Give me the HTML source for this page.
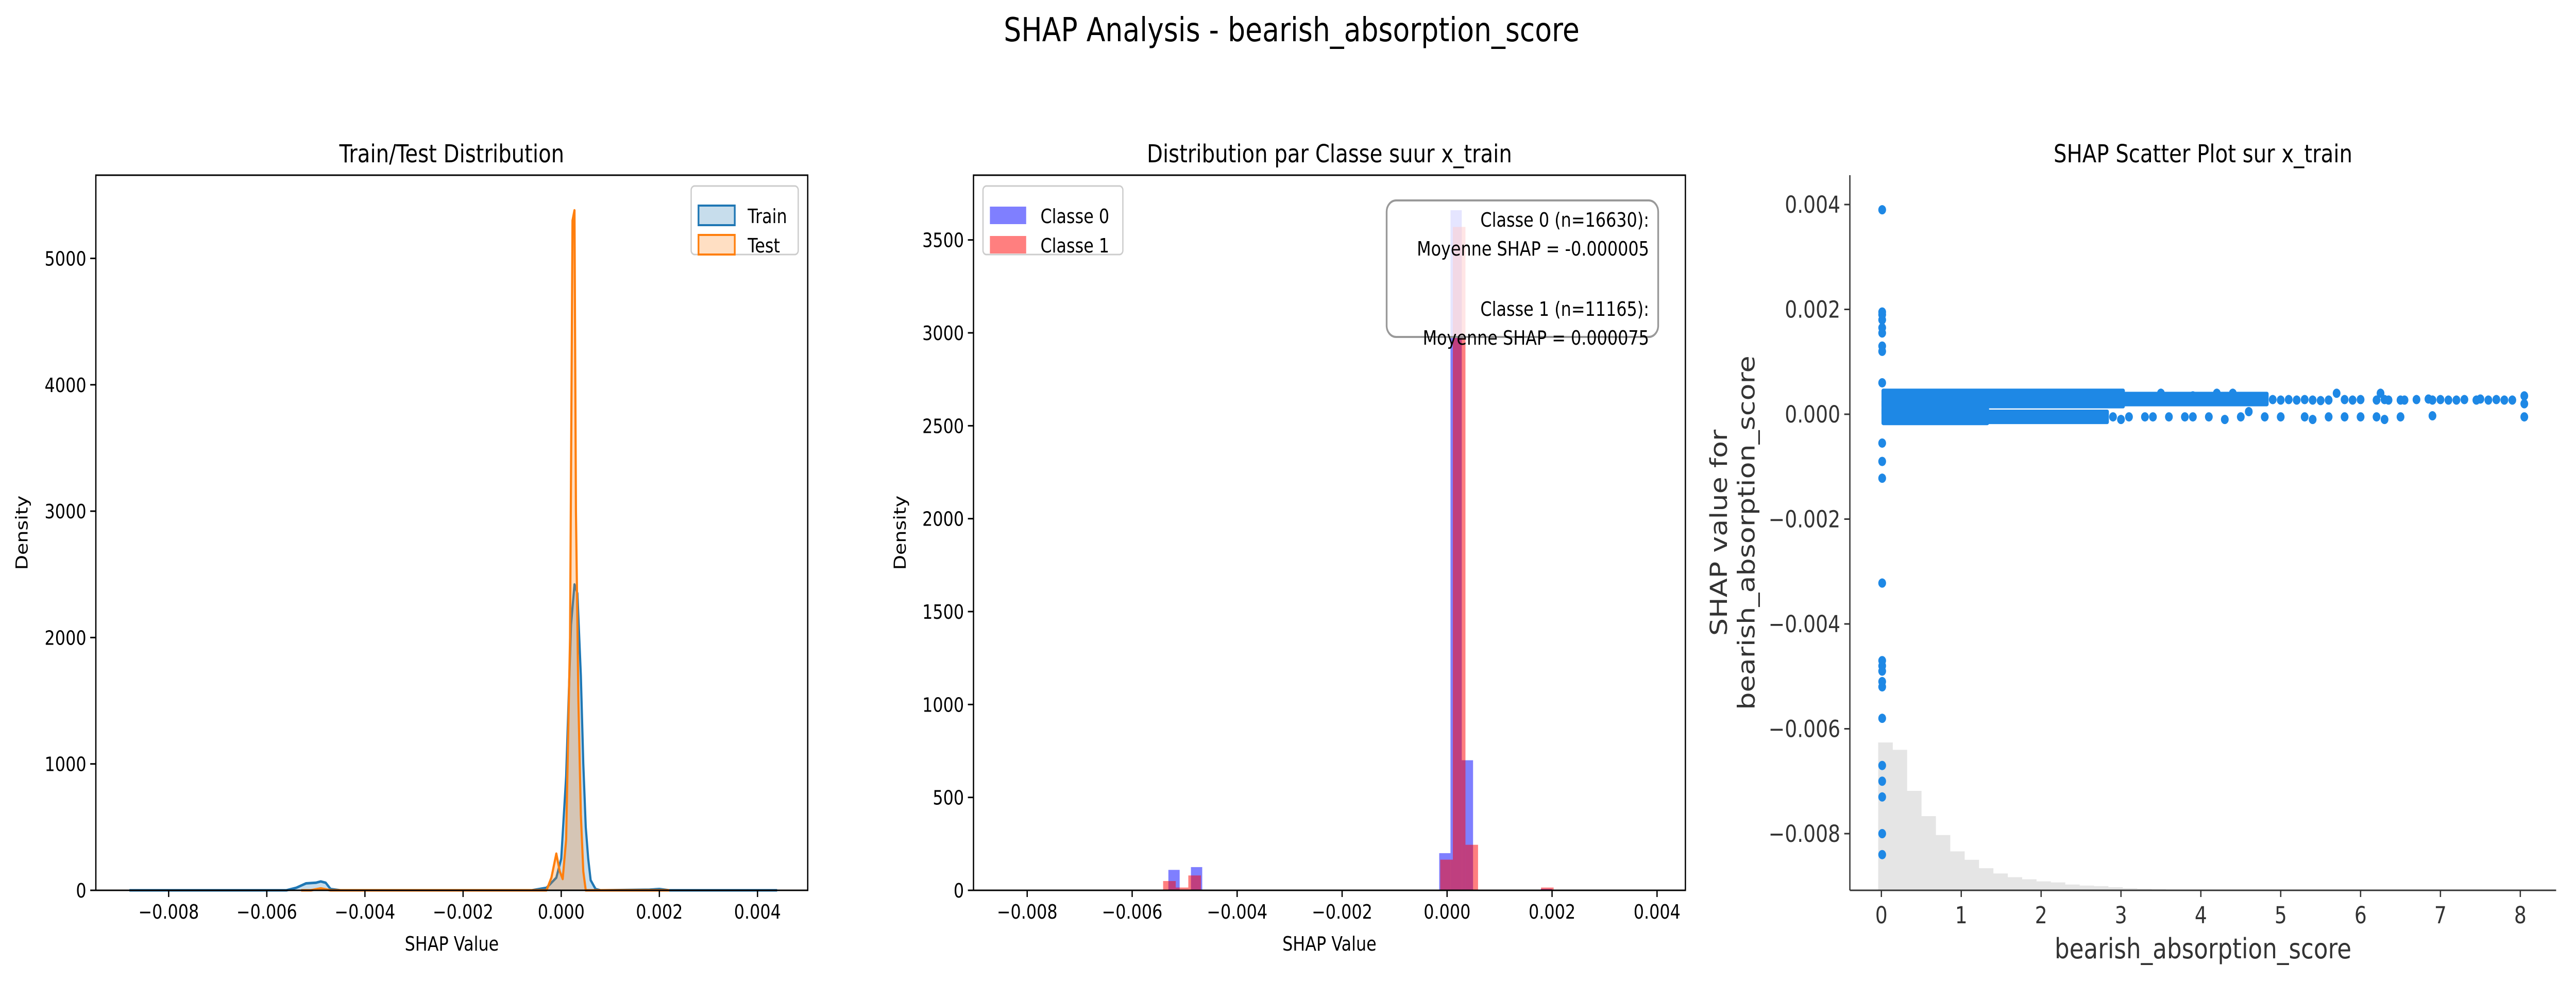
<!DOCTYPE html>
<html><head><meta charset="utf-8"><style>
html,body{margin:0;padding:0;background:#fff;overflow:hidden;width:100%;height:100%;}
svg{display:block;width:100vw;height:100vh;font-family:"DejaVu Sans","Liberation Sans",sans-serif;}
</style></head><body>
<svg id="fig" viewBox="0 0 5967 1904" preserveAspectRatio="none" xmlns="http://www.w3.org/2000/svg">
<rect width="5967" height="1904" fill="#fff"/>
<text x="2992" y="80" font-size="64" text-anchor="middle">SHAP Analysis - bearish_absorption_score</text>
<g id="p1"></g>
<g id="p2"></g>
<g id="p3"></g>
</svg>
<script>
// ---- Panel 1 data (KDE) ----
const trainX=[-0.0088,-0.0056,-0.0054,-0.0052,-0.0050,-0.0049,-0.0048,-0.0047,-0.0045,-0.0006,-0.0003,-0.0001,0.0,0.0001,0.00015,0.0002,0.00027,0.00033,0.0004,0.00045,0.0005,0.00055,0.0006,0.0007,0.0008,0.0018,0.002,0.0022,0.0044];
const trainY=[0,0,20,55,60,70,60,10,0,0,20,100,250,900,1500,2100,2420,2350,1700,1000,500,250,80,10,0,5,10,0,0];
const testX=[-0.0053,-0.0051,-0.0049,-0.0047,-0.0003,-0.0002,-0.0001,-0.00003,0.00003,0.0001,0.00018,0.00023,0.00027,0.0003,0.00035,0.0004,0.00045,0.0005,0.0022];
const testY=[0,0,15,0,0,100,290,150,90,400,2000,5300,5380,3000,1500,600,150,0,0];
const p1XTicks=[-0.008,-0.006,-0.004,-0.002,0,0.002,0.004];
const p1YTicks=[0,1000,2000,3000,4000,5000];
// ---- Panel 2 data (histograms) ----
const c0Start=-0.00531, c0Width=0.000215;
const c0Counts=[110,0,125,0,0,0,0,0,0,0,0,0,0,0,0,0,0,0,0,0,0,0,0,0,200,3660,700,0,0,0,0,0,0,8];
const c1Start=-0.00541, c1Width=0.00024;
const c1Counts=[50,15,80,0,0,0,0,0,0,0,0,0,0,0,0,0,0,0,0,0,0,0,165,3570,245,0,0,0,0,0,15];
const p2YTicks=[0,500,1000,1500,2000,2500,3000,3500];
// ---- Panel 3 data (scatter) ----
const clusterX0=[0.05,0.05,0.05,3.0,1.3];
const clusterX1=[3.0,1.3,0.6,4.8,2.8];
const clusterY0=[0.0002,-0.00012,0.00005,0.00024,-0.0001];
const clusterY1=[0.0004,0.00005,0.0002,0.00034,0.0];
const outlierY=[0.0039,0.00195,0.0019,0.0018,0.00165,0.00155,0.0013,0.0012,0.0006,-0.00055,-0.0009,-0.00122,-0.00322,-0.0047,-0.0048,-0.0049,-0.0051,-0.0052,-0.0058,-0.0067,-0.007,-0.0073,-0.008,-0.0084];
const upperX=[3.1,3.5,3.9,4.2,4.4,4.6,4.9,5.0,5.1,5.2,5.3,5.4,5.5,5.6,5.7,5.8,5.9,6.0,6.2,6.25,6.3,6.35,6.5,6.55,6.7,6.85,6.9,7.0,7.1,7.2,7.3,7.45,7.5,7.6,7.7,7.8,7.9,8.05,8.05,8.05];
const upperY=[0.0003,0.0004,0.00035,0.0004,0.0004,0.0003,0.00028,0.00027,0.00028,0.00027,0.00028,0.00027,0.00026,0.00027,0.0004,0.00028,0.00027,0.00028,0.00027,0.0004,0.00028,0.00027,0.00027,0.00027,0.00028,0.00029,0.00027,0.00028,0.00027,0.00027,0.00028,0.00027,0.00029,0.00027,0.00028,0.00027,0.00027,0.00035,0.0002,-0.00005];
const lowerX=[2.9,3.0,3.1,3.3,3.4,3.6,3.8,3.9,4.1,4.3,4.5,4.6,4.8,5.0,5.3,5.4,5.6,5.8,6.0,6.2,6.3,6.5,6.9];
const lowerY=[-0.00005,-0.0001,-0.00005,-0.00005,-0.00005,-0.00005,-0.00005,-0.00005,-0.00005,-0.0001,-0.00005,0.00005,-0.00005,-0.00005,-0.00005,-0.0001,-0.00005,-0.00005,-0.00005,-0.00005,-0.0001,-0.00005,-0.00003];
const histStart=-0.04, histWidth=0.18;
const histCounts=[281,267,189,141,105,74,58,42,32,25,21,17,15,11,9,8,6,4,3,2,1,1];
const p3XTicks=[0,1,2,3,4,5,6,7,8];
const p3YTicks=[-0.008,-0.006,-0.004,-0.002,0,0.002,0.004];

const NS="http://www.w3.org/2000/svg";
function mk(parent,tag,attrs,text){const e=document.createElementNS(NS,tag);for(const k in attrs)e.setAttribute(k,attrs[k]);if(text!==undefined)e.textContent=text;parent.appendChild(e);return e;}
function fmt(v,d){let s=v.toFixed(d);if(v<0)s="\u2212"+s.slice(1);return s;}

// ---------- Panel 1 ----------
(function(){
const g=document.getElementById('p1');
const L=222,R=1871,T=340,B=1728;
const sx=v=>1300+v*(1756-392)/0.012;
const sy=v=>B-v*(B-501.5)/5000;
function area(xs,ys,col,name){
 let d="M"+sx(xs[0])+","+sy(0);
 xs.forEach((x,i)=>{d+=" L"+sx(x)+","+sy(ys[i]);});
 d+=" L"+sx(xs[xs.length-1])+","+sy(0)+"Z";
 const f=mk(g,'path',{d:d,fill:col,'fill-opacity':0.25,stroke:'none'});
 
 
 let l="";xs.forEach((x,i)=>{l+=(i?" L":"M")+sx(x)+","+sy(ys[i]);});
 const p=mk(g,'path',{d:l,fill:'none',stroke:col,'stroke-width':5,'stroke-linejoin':'round'});
 
 
}
area(trainX,trainY,'#1f77b4','train-kde');
area(testX,testY,'#ff7f0e','test-kde');
const fr=mk(g,'rect',{x:L,y:T,width:R-L,height:B-T,fill:'none',stroke:'#000','stroke-width':3});


p1XTicks.forEach(v=>{const x=sx(v);mk(g,'line',{x1:x,x2:x,y1:B,y2:B+13,stroke:'#000','stroke-width':3});
 const t=mk(g,'text',{x:x,y:B+55,'font-size':38,'text-anchor':'middle'},v===0?"0.000":fmt(v,3));
 
 });
p1YTicks.forEach(v=>{const y=sy(v);mk(g,'line',{x1:L,x2:L-13,y1:y,y2:y,stroke:'#000','stroke-width':3});
 const t=mk(g,'text',{x:L-22,y:y+14,'font-size':38,'text-anchor':'end'},String(v));
 
 });
let t=mk(g,'text',{x:(L+R)/2,y:315,'font-size':48,'text-anchor':'middle'},'Train/Test Distribution');


t=mk(g,'text',{x:(L+R)/2,y:1845,'font-size':38,'text-anchor':'middle'},'SHAP Value');


t=mk(g,'text',{x:0,y:0,'font-size':38,'text-anchor':'middle',transform:'translate(64,1034) rotate(-90)'},'Density');


const lg=mk(g,'g',{});


mk(lg,'rect',{x:1601,y:361,width:248,height:133,rx:8,fill:'#fff',stroke:'#ccc','stroke-width':3});
[['Train','#1f77b4',419],['Test','#ff7f0e',476]].forEach(a=>{
 mk(lg,'rect',{x:1618,y:a[2]-20,width:84,height:38,fill:a[1],'fill-opacity':0.25,stroke:a[1],'stroke-width':4});
 const e=mk(lg,'text',{x:1732,y:a[2]+14,'font-size':38},a[0]);
 
 });
})();

// ---------- Panel 2 ----------
(function(){
const g=document.getElementById('p2');
const L=2255,R=3904,T=340,B=1728;
const sx=v=>3352+v*(3838-2379)/0.012;
const sy=v=>B-v*(B-465.7)/3500;
function bars(start,w,counts,col,name){
 counts.forEach((c,i)=>{if(c<=0)return;const x0=sx(start+i*w),x1=sx(start+(i+1)*w);
  const r=mk(g,'rect',{x:x0,y:sy(c),width:x1-x0,height:B-sy(c),fill:col,'fill-opacity':0.5});
  
  });
}
bars(c0Start,c0Width,c0Counts,'#0000ff','bar-classe-0');
bars(c1Start,c1Width,c1Counts,'#ff0000','bar-classe-1');
const fr=mk(g,'rect',{x:L,y:T,width:R-L,height:B-T,fill:'none',stroke:'#000','stroke-width':3});


p1XTicks.forEach(v=>{const x=sx(v);mk(g,'line',{x1:x,x2:x,y1:B,y2:B+13,stroke:'#000','stroke-width':3});
 const t=mk(g,'text',{x:x,y:B+55,'font-size':38,'text-anchor':'middle'},v===0?"0.000":fmt(v,3));
 
 });
p2YTicks.forEach(v=>{const y=sy(v);mk(g,'line',{x1:L,x2:L-13,y1:y,y2:y,stroke:'#000','stroke-width':3});
 const t=mk(g,'text',{x:L-22,y:y+14,'font-size':38,'text-anchor':'end'},String(v));
 
 });
let t=mk(g,'text',{x:(L+R)/2,y:315,'font-size':48,'text-anchor':'middle'},'Distribution par Classe suur x_train');


t=mk(g,'text',{x:(L+R)/2,y:1845,'font-size':38,'text-anchor':'middle'},'SHAP Value');


t=mk(g,'text',{x:0,y:0,'font-size':38,'text-anchor':'middle',transform:'translate(2098,1034) rotate(-90)'},'Density');


const lg=mk(g,'g',{});


mk(lg,'rect',{x:2277,y:361,width:324,height:133,rx:8,fill:'#fff','fill-opacity':0.8,stroke:'#ccc','stroke-width':3});
[['Classe 0','#0000ff',419],['Classe 1','#ff0000',476]].forEach(a=>{
 mk(lg,'rect',{x:2293,y:a[2]-18,width:84,height:34,fill:a[1],'fill-opacity':0.5});
 const e=mk(lg,'text',{x:2410,y:a[2]+14,'font-size':38},a[0]);
 
 });
const sb=mk(g,'g',{});


mk(sb,'rect',{x:3212,y:389,width:629,height:265,rx:22,fill:'#fff','fill-opacity':0.8,stroke:'#999','stroke-width':4});
[['Classe 0 (n=16630):',440],['Moyenne SHAP = -0.000005',496],['Classe 1 (n=11165):',613],['Moyenne SHAP = 0.000075',669]].forEach(a=>{
 const e=mk(sb,'text',{x:3820,y:a[1],'font-size':38,'text-anchor':'end'},a[0]);
 
 });
})();

// ---------- Panel 3 ----------
(function(){
const g=document.getElementById('p3');
const L=4285,R=5921,T=340,B=1728;
const sx=v=>4358+v*(5838-4358)/8;
const sy=v=>804-v*(804-397)/0.004;
const hs=287/281;
histCounts.forEach((c,i)=>{const x0=sx(histStart+i*histWidth),x1=sx(histStart+(i+1)*histWidth);
 const r=mk(g,'rect',{x:x0,y:B-c*hs,width:x1-x0+0.5,height:c*hs,fill:'#e5e5e5'});
 
 });
const col='#1e88e5', rad=9;
clusterX0.forEach((x0,i)=>{
 const r=mk(g,'rect',{x:sx(x0)-rad,y:sy(clusterY1[i])-rad,width:sx(clusterX1[i])-sx(x0)+2*rad,height:sy(clusterY0[i])-sy(clusterY1[i])+2*rad,rx:4,fill:col});
 
 });
outlierY.forEach(y=>{const c=mk(g,'circle',{cx:sx(0.01),cy:sy(y),r:rad,fill:col});
 
 });
upperX.forEach((x,i)=>{const c=mk(g,'circle',{cx:sx(x),cy:sy(upperY[i]),r:rad,fill:col});
 
 });
lowerX.forEach((x,i)=>{const c=mk(g,'circle',{cx:sx(x),cy:sy(lowerY[i]),r:rad,fill:col});
 
 });
let e=mk(g,'line',{x1:L,x2:L,y1:T,y2:B,stroke:'#333','stroke-width':3});


e=mk(g,'line',{x1:L,x2:R,y1:B,y2:B,stroke:'#333','stroke-width':3});


p3XTicks.forEach(v=>{const x=sx(v);mk(g,'line',{x1:x,x2:x,y1:B,y2:B+13,stroke:'#333','stroke-width':3});
 const t=mk(g,'text',{x:x,y:B+64,'font-size':45,'text-anchor':'middle',fill:'#333'},String(v));
 
 });
p3YTicks.forEach(v=>{const y=sy(v);mk(g,'line',{x1:L,x2:L-13,y1:y,y2:y,stroke:'#333','stroke-width':3});
 const t=mk(g,'text',{x:L-22,y:y+16,'font-size':45,'text-anchor':'end',fill:'#333'},v===0?"0.000":fmt(v,3));
 
 });
let t=mk(g,'text',{x:(L+R)/2,y:315,'font-size':48,'text-anchor':'middle'},'SHAP Scatter Plot sur x_train');


t=mk(g,'text',{x:(L+R)/2,y:1860,'font-size':54,'text-anchor':'middle',fill:'#333'},'bearish_absorption_score');


t=mk(g,'text',{x:0,y:0,'font-size':54,'text-anchor':'middle',fill:'#333',transform:'translate(4000,1034) rotate(-90)'},'SHAP value for');


t=mk(g,'text',{x:0,y:0,'font-size':54,'text-anchor':'middle',fill:'#333',transform:'translate(4064,1034) rotate(-90)'},'bearish_absorption_score');


})();
</script>
</body></html>
